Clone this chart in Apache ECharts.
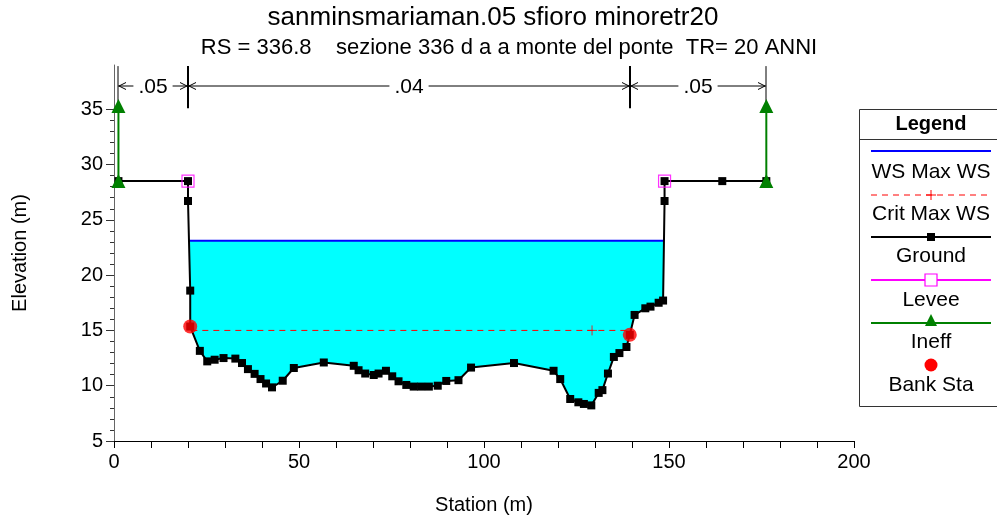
<!DOCTYPE html>
<html><head><meta charset="utf-8">
<script src="https://cdn.jsdelivr.net/npm/echarts@6/dist/echarts.min.js"></script>
<style>html,body{margin:0;padding:0;background:#fff}#c{width:997px;height:523px}</style>
</head><body><div id="c"></div>
<script>
// ---- data ----
const titleText = 'sanminsmariaman.05 sfioro minoretr20';
const subtitleText = 'RS = 336.8    sezione 336 d a a monte del ponte  TR= 20 ANNI';
const groundStation = [1.2, 20.0, 20.0, 20.6, 20.6, 23.2, 25.2, 27.2, 29.6, 32.8, 34.6, 36.2, 38.0, 39.6, 41.1, 42.7, 45.6, 48.6, 56.7, 64.8, 66.1, 67.9, 70.2, 71.5, 73.5, 75.2, 76.9, 79.0, 81.0, 83.0, 85.1, 87.5, 89.8, 93.1, 96.5, 108.1, 118.8, 120.6, 123.3, 125.5, 127.0, 129.0, 131.0, 132.0, 133.5, 135.1, 136.6, 138.5, 139.4, 140.7, 143.6, 145.0, 147.2, 148.4, 148.8, 148.8, 164.4, 176.3];
const groundElev = [28.5, 28.5, 26.7, 18.6, 15.35, 13.15, 12.2, 12.35, 12.5, 12.45, 12.05, 11.5, 11.07, 10.6, 10.2, 9.85, 10.45, 11.6, 12.1, 11.8, 11.4, 11.1, 10.97, 11.1, 11.35, 10.85, 10.4, 10.07, 9.92, 9.92, 9.92, 10.0, 10.43, 10.5, 11.64, 12.05, 11.35, 10.6, 8.8, 8.5, 8.35, 8.22, 9.35, 9.6, 11.1, 12.6, 12.95, 13.5, 14.6, 16.4, 17.0, 17.15, 17.5, 17.7, 26.7, 28.5, 28.5, 28.5];
const wsElev = 23.1;
const critElev = 15.0;
const critStations = [20.9, 139.7];
const critMarkStation = 129.2;
const leveeStation = [20.0, 148.8];
const leveeElev = [28.5, 28.5];
const ineffStation = [1.2, 176.3];
const ineffLow = [28.5, 28.5];
const ineffHigh = [35.3, 35.3];
const bankStation = [20.6, 139.4];
const bankElev = [15.35, 14.6];
const nStations = [1.2, 20.0, 139.4, 176.3];
const nValues = ['.05', '.04', '.05'];
const yMajorTicks = [5, 10, 15, 20, 25, 30, 35];
const yMinorTicks = [6, 7, 8, 9, 11, 12, 13, 14, 16, 17, 18, 19, 21, 22, 23, 24, 26, 27, 28, 29, 31, 32, 33, 34];
const xTickLabels = [0, 50, 100, 150, 200];
const legendItems = ['WS Max WS', 'Crit Max WS', 'Ground', 'Levee', 'Ineff', 'Bank Sta'];

const FONT = '"Liberation Sans", Arial, sans-serif';

// water polygon: ground clipped by the water surface
function waterPolygon() {
  const n = groundStation.length;
  let li = -1, ri = -1;
  for (let i = 0; i < n - 1; i++) { if (groundElev[i] >= wsElev && groundElev[i + 1] < wsElev) { li = i; break; } }
  for (let i = n - 2; i >= 0; i--) { if (groundElev[i] < wsElev && groundElev[i + 1] >= wsElev) { ri = i; break; } }
  const cross = (i) => {
    const x0 = groundStation[i], y0 = groundElev[i], x1 = groundStation[i + 1], y1 = groundElev[i + 1];
    const t = (wsElev - y0) / (y1 - y0);
    return [x0 + t * (x1 - x0), wsElev];
  };
  const L = cross(li), R = cross(ri);
  const pts = [L];
  for (let i = li + 1; i <= ri; i++) pts.push([groundStation[i], groundElev[i]]);
  pts.push(R);
  return pts;
}
const waterPts = waterPolygon();
const wsLine = [waterPts[0], waterPts[waterPts.length - 1]];

const chart = echarts.init(document.getElementById('c'), null, { renderer: 'canvas' });

// legend graphics
const legendGraphics = [];
const LX0 = 871, LX1 = 991, LC = 931;
legendGraphics.push({ type: 'rect', shape: { x: 859.5, y: 109.5, width: 145, height: 297 }, style: { fill: '#fff', stroke: '#333', lineWidth: 1 }, z: 10 });
legendGraphics.push({ type: 'line', shape: { x1: 859.5, y1: 139.5, x2: 997, y2: 139.5 }, style: { stroke: '#333', lineWidth: 1 }, z: 11 });
legendGraphics.push({ type: 'text', x: LC, y: 124, style: { text: 'Legend', font: 'bold 20px ' + FONT, fill: '#000', align: 'center', verticalAlign: 'middle' }, z: 11 });
const lineYs = [151, 195, 237, 280, 323, 365];
const textYs = [172, 214, 256, 300, 342, 385];
lineYs.forEach((y, i) => {
  if (i === 0) legendGraphics.push({ type: 'line', shape: { x1: LX0, y1: y, x2: LX1, y2: y }, style: { stroke: '#0000ff', lineWidth: 2 }, z: 11 });
  if (i === 1) {
    legendGraphics.push({ type: 'line', shape: { x1: LX0, y1: y, x2: LX1, y2: y }, style: { stroke: '#ff0000', lineWidth: 1, lineDash: [6, 5] }, z: 11 });
    legendGraphics.push({ type: 'line', shape: { x1: LC, y1: y - 5, x2: LC, y2: y + 5 }, style: { stroke: '#ff0000', lineWidth: 1 }, z: 11 });
    legendGraphics.push({ type: 'line', shape: { x1: LC - 5, y1: y, x2: LC + 5, y2: y }, style: { stroke: '#ff0000', lineWidth: 1 }, z: 11 });
  }
  if (i === 2) {
    legendGraphics.push({ type: 'line', shape: { x1: LX0, y1: y, x2: LX1, y2: y }, style: { stroke: '#000', lineWidth: 2 }, z: 11 });
    legendGraphics.push({ type: 'rect', shape: { x: LC - 4, y: y - 4, width: 8, height: 8 }, style: { fill: '#000' }, z: 12 });
  }
  if (i === 3) {
    legendGraphics.push({ type: 'line', shape: { x1: LX0, y1: y, x2: LX1, y2: y }, style: { stroke: '#ff00ff', lineWidth: 2 }, z: 11 });
    legendGraphics.push({ type: 'rect', shape: { x: LC - 6, y: y - 6, width: 12, height: 12 }, style: { fill: '#fff', stroke: '#ff00ff', lineWidth: 1.2 }, z: 12 });
  }
  if (i === 4) {
    legendGraphics.push({ type: 'line', shape: { x1: LX0, y1: y, x2: LX1, y2: y }, style: { stroke: '#008000', lineWidth: 2 }, z: 11 });
    legendGraphics.push({ type: 'polygon', shape: { points: [[LC, y - 9], [LC - 6, y + 3], [LC + 6, y + 3]] }, style: { fill: '#008000' }, z: 12 });
  }
  if (i === 5) {
    legendGraphics.push({ type: 'circle', shape: { cx: LC, cy: y, r: 6.5 }, style: { fill: '#ff0000' }, z: 12 });
  }
  legendGraphics.push({ type: 'text', x: LC, y: textYs[i], style: { text: legendItems[i], font: '21px ' + FONT, fill: '#000', align: 'center', verticalAlign: 'middle' }, z: 11 });
});

const option = {
  backgroundColor: '#fff',
  animation: false,
  textStyle: { fontFamily: FONT },
  grid: { left: 114, right: 143, top: 65, bottom: 82 },
  xAxis: {
    type: 'value', min: 0, max: 200, interval: 10,
    name: 'Station (m)', nameLocation: 'middle', nameGap: 54,
    nameTextStyle: { fontSize: 20, color: '#000', fontFamily: FONT },
    axisLine: { onZero: false, lineStyle: { color: '#000', width: 1 } },
    axisTick: { length: 7, lineStyle: { color: '#000' } },
    axisLabel: { fontSize: 20, color: '#000', margin: 11, fontFamily: FONT, formatter: v => (xTickLabels.indexOf(v) >= 0 ? String(v) : '') },
    splitLine: { show: false }
  },
  yAxis: [{
    type: 'value', min: 5, max: 39,
    name: 'Elevation (m)', nameLocation: 'middle', nameGap: 84,
    nameTextStyle: { fontSize: 20, color: '#000', fontFamily: FONT },
    axisLine: { show: true, onZero: false, lineStyle: { color: '#666', width: 1 } },
    axisTick: { show: true, length: 8, customValues: yMajorTicks, lineStyle: { color: '#333' } },
    axisLabel: { fontSize: 20, color: '#000', margin: 11, fontFamily: FONT, customValues: yMajorTicks },
    splitLine: { show: false }
  }, {
    type: 'value', min: 5, max: 39, position: 'left',
    axisLine: { show: false },
    axisTick: { show: true, length: 4, customValues: yMinorTicks, lineStyle: { color: '#333' } },
    axisLabel: { show: false },
    splitLine: { show: false }
  }],
  graphic: [
    { type: 'text', x: 493, y: 18, style: { text: titleText, font: '26px ' + FONT, fill: '#000', align: 'center', verticalAlign: 'middle' } },
    { type: 'text', x: 509, y: 48, style: { text: subtitleText, font: '22px ' + FONT, fill: '#000', align: 'center', verticalAlign: 'middle' } },
    ...legendGraphics
  ],
  series: [
    {
      type: 'custom', name: 'water', silent: true, z: 1, clip: true,
      data: [[0, 0]], encode: { x: 0, y: 1 },
      renderItem: (params, api) => ({ type: 'polygon', shape: { points: waterPts.map(p => api.coord(p)) }, style: { fill: '#00ffff' } })
    },
    {
      type: 'custom', name: 'nvalues', silent: true, z: 5, clip: false,
      data: [[0, 0]], encode: { x: 0, y: 1 },
      renderItem: (params, api) => {
        const ch = [];
        const yTop = api.coord([0, 38.9])[1], yBot = api.coord([0, 35.1])[1], yA = api.coord([0, 37.1])[1];
        nStations.forEach((s, i) => {
          const x = Math.round(api.coord([s, 0])[0]);
          const mid = i > 0 && i < nStations.length - 1;
          ch.push({ type: 'line', shape: { x1: x, y1: yTop, x2: x, y2: yBot }, style: { stroke: '#000', lineWidth: mid ? 2 : 1 } });
        });
        for (let i = 0; i < nValues.length; i++) {
          const x0 = Math.round(api.coord([nStations[i], 0])[0]), x1 = Math.round(api.coord([nStations[i + 1], 0])[0]);
          ch.push({ type: 'line', shape: { x1: x0, y1: yA, x2: x1, y2: yA }, style: { stroke: '#000', lineWidth: 1 } });
          ch.push({ type: 'polyline', shape: { points: [[x0 + 8, yA - 3.5], [x0 + 1, yA], [x0 + 8, yA + 3.5]] }, style: { stroke: '#000', fill: null, lineWidth: 1 } });
          ch.push({ type: 'polyline', shape: { points: [[x1 - 8, yA - 3.5], [x1 - 1, yA], [x1 - 8, yA + 3.5]] }, style: { stroke: '#000', fill: null, lineWidth: 1 } });
          ch.push({ type: 'text', x: (x0 + x1) / 2, y: yA + 1, style: { text: nValues[i], fill: '#000', font: '21px ' + FONT, align: 'center', verticalAlign: 'middle', backgroundColor: '#fff', padding: [0, 5] } });
        }
        return { type: 'group', children: ch };
      }
    },
    {
      type: 'line', name: 'WS Max WS', z: 3, symbol: 'none',
      data: wsLine, lineStyle: { color: '#0000ff', width: 2 }
    },
    {
      type: 'line', name: 'Crit Max WS', z: 3, symbol: 'none',
      data: critStations.map(s => [s, critElev]), lineStyle: { color: '#ff0000', width: 1, type: [6, 5] }
    },
    {
      type: 'scatter', name: 'Crit mark', z: 4, symbol: 'path://M5,0L5,10M0,5L10,5', symbolSize: 10,
      data: [[critMarkStation, critElev]], itemStyle: { color: 'none', borderColor: '#ff0000', borderWidth: 1 }
    },
    {
      type: 'line', name: 'Ground', z: 5, symbol: 'rect', symbolSize: 8, showAllSymbol: true,
      data: groundStation.map((s, i) => [s, groundElev[i]]),
      lineStyle: { color: '#000', width: 2 }, itemStyle: { color: '#000' }
    },
    {
      type: 'scatter', name: 'Levee', z: 6, symbol: 'rect', symbolSize: 12,
      data: leveeStation.map((s, i) => [s, leveeElev[i]]),
      itemStyle: { color: 'rgba(0,0,0,0)', borderColor: '#ff00ff', borderWidth: 1.2 }
    },
    ...ineffStation.map((s, i) => ({
      type: 'line', name: 'Ineff', z: 7, symbol: 'triangle', symbolSize: 14,
      data: [[s, ineffLow[i]], [s, ineffHigh[i]]],
      lineStyle: { color: '#008000', width: 2 }, itemStyle: { color: '#008000' }
    })),
    {
      type: 'scatter', name: 'Bank Sta', z: 8, symbol: 'circle', symbolSize: 14,
      data: bankStation.map((s, i) => [s, bankElev[i]]), itemStyle: { color: '#ff0000' }
    }
  ]
};
chart.setOption(option);
</script>
</body></html>
